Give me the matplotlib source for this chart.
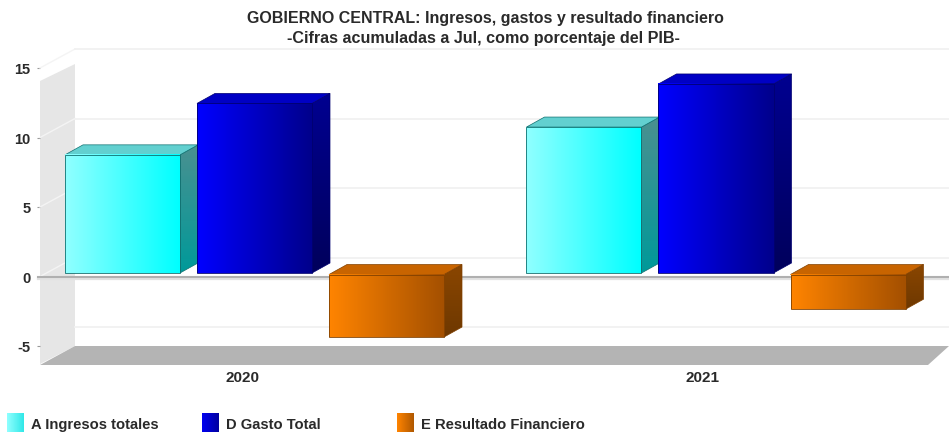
import numpy as np
import matplotlib
matplotlib.use("Agg")
import matplotlib.pyplot as plt
from matplotlib.colors import LinearSegmentedColormap
from matplotlib.patches import Polygon

plt.rcParams["font.family"] = ["Liberation Sans", "DejaVu Sans"]

# Data
years = ["2020", "2021"]
series_names = ["A Ingresos totales", "D Gasto Total", "E Resultado Financiero"]
ingresos = [8.5, 10.5]
gasto = [12.2, 13.6]
resultado = [-4.5, -2.5]
y_ticks = [-5, 0, 5, 10, 15]

# Colours: front gradient, side gradient, top face
front_cols = [("#90ffff", "#00ffff"), ("#0000ff", "#00008c"), ("#ff8400", "#a45000")]
side_cols = [("#4a9090", "#009a9a"), ("#000090", "#00005c"), ("#8a4600", "#6e3800")]
top_cols = ["#62d0d0", "#0000c4", "#c86400"]
legend_cols = [("#90ffff", "#30e8e8"), ("#0000f0", "#0000a0"), ("#ff8400", "#b05800")]
edge_cols = ["#107070", "#000070", "#804000"]
text_col = "#2a2a2a"

W, H = 949, 435
fig = plt.figure(figsize=(W / 100, H / 100), dpi=100)

# axes: left edge of wall to right edge, -5 to 15 ticks
TOP, BOTTOM, LEFT = 69, 347, 40
ax = fig.add_axes([LEFT / W, 1 - BOTTOM / H, (W - LEFT) / W, (BOTTOM - TOP) / H])
GROUP_PX = 461.5
X0_PX = 254.5  # centre of first group
xlim = ((LEFT - X0_PX) / GROUP_PX, (W - X0_PX) / GROUP_PX)
ylim = (-5, 15)
PX_Y = (BOTTOM - TOP) / 20


def px(x, y):
    return ((x - X0_PX) / GROUP_PX, 15 - (y - TOP) / PX_Y)


def poly(points, **kw):
    p = Polygon([px(*q) for q in points], clip_on=False, **kw)
    ax.add_patch(p)
    return p


def gradient(x0, x1, y0, y1, cols, horizontal=True, clip=None, z=3):
    cmap = LinearSegmentedColormap.from_list("g", cols)
    g = np.linspace(0, 1, 64)
    g = g[None, :] if horizontal else g[:, None]
    im = ax.imshow(g, extent=(x0, x1, y0, y1), origin="upper", cmap=cmap, aspect="auto",
                   interpolation="bilinear", zorder=z, clip_on=False)
    if clip is not None:
        im.set_clip_on(True)
        im.set_clip_path(clip)
    return im


# walls and floor
poly([(40, 82), (75, 65), (75, 347), (40, 365)], fc="#e6e6e6", ec="none", zorder=1)
poly([(40, 366), (75, 347), (949, 347), (928, 366)], fc="#b4b4b4", ec="none", zorder=1)

# grid on back wall plus diagonals on the side wall
for t in y_ticks:
    y_front = TOP + (15 - t) * PX_Y
    y_back = y_front - 19
    if t != -5:
        ax.plot(*zip(px(40, y_front), px(75, y_back)), color="#f4f4f4", lw=1, zorder=2, clip_on=False)
    ax.plot(*zip(px(75, y_back), px(949, y_back)), color="#f1f1f1", lw=1.3, zorder=2, clip_on=False)

# zero plane
ax.plot(*zip(px(38, 277.5), px(949, 277.5)), color="#b0b0b0", lw=1.5, zorder=2.2, clip_on=False)
ax.plot(*zip(px(38, 279.5), px(949, 279.5)), color="#e2e2e2", lw=1.6, zorder=2.1, clip_on=False)

# bars (3D look: fixed depth in pixels)
DEPTH_X, DEPTH_Y = 18 / GROUP_PX, 10 / PX_Y
BAR_W, BAR_STEP = 115 / GROUP_PX, 132 / GROUP_PX
base_pos = 3.5 / PX_Y  # bars stand a little above the tick zero
base_neg = 2 / PX_Y
z = 3
for g in range(len(years)):
    for s, vals in enumerate([ingresos, gasto, resultado]):
        left = g + (s - 1) * BAR_STEP - BAR_W / 2
        right = left + BAR_W
        v = vals[g]
        hi, lo = (base_pos + v, base_pos) if v >= 0 else (base_neg, base_neg + v)
        # side face
        side = Polygon([(right, lo), (right + DEPTH_X, lo + DEPTH_Y), (right + DEPTH_X, hi + DEPTH_Y), (right, hi)],
                       fc="none", ec="none")
        ax.add_patch(side)
        gradient(right, right + DEPTH_X, lo, hi + DEPTH_Y, side_cols[s], horizontal=False, clip=side, z=z)
        ax.add_patch(Polygon(side.get_xy(), fc="none", ec=edge_cols[s], lw=0.5, zorder=z + 0.1))
        # top face
        ax.add_patch(Polygon([(left, hi), (left + DEPTH_X, hi + DEPTH_Y), (right + DEPTH_X, hi + DEPTH_Y), (right, hi)],
                             fc=top_cols[s], ec=edge_cols[s], lw=0.5, zorder=z + 0.1, clip_on=False))
        # front face
        gradient(left, right, lo, hi, front_cols[s], z=z + 0.2)
        ax.add_patch(Polygon([(left, lo), (right, lo), (right, hi), (left, hi)], fc="none",
                             ec=edge_cols[s], lw=0.6, zorder=z + 0.3))
        z += 1

ax.set_xlim(xlim)
ax.set_ylim(ylim)
ax.patch.set_visible(False)
for sp in ax.spines.values():
    sp.set_visible(False)
ax.set_yticks(y_ticks)
ax.set_yticklabels([str(t) for t in y_ticks], fontsize=10.5, fontweight="bold", color=text_col)
ax.tick_params(axis="y", length=2, width=0.8, color="#999999", pad=5)
ax.set_xticks([-11.5 / GROUP_PX, 1 - 13 / GROUP_PX])
ax.set_xticklabels(years, fontsize=11, fontweight="bold", color=text_col)
ax.tick_params(axis="x", length=0, pad=17)

# title
fig.text(485 / W, 1 - 18.5 / H, "GOBIERNO CENTRAL: Ingresos, gastos y resultado financiero",
         ha="center", va="center", fontsize=11.5, fontweight="bold", color=text_col)
fig.text(483 / W, 1 - 38.5 / H, "-Cifras acumuladas a Jul, como porcentaje del PIB-",
         ha="center", va="center", fontsize=11.6, fontweight="bold", color=text_col)

# legend
for s, (name, x_px) in enumerate(zip(series_names, [7, 202, 397])):
    x0, y0 = px(x_px, 433)
    x1, y1 = px(x_px + 17, 414)
    gradient(x0, x1, y0, y1, legend_cols[s], z=50)
    fig.text((x_px + 24) / W, 1 - 425.5 / H, name, ha="left", va="center",
             fontsize=10.6, fontweight="bold", color=text_col)

fig.savefig("out.png", dpi=100)
